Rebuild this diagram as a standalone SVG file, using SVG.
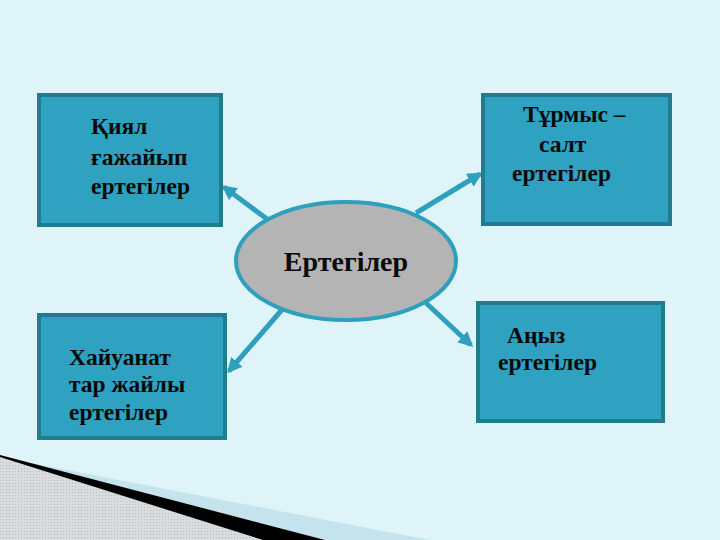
<svg xmlns="http://www.w3.org/2000/svg" width="720" height="540" viewBox="0 0 720 540">
<defs>
<style>
.box{fill:#2ea2c0;stroke:#237b8e;stroke-width:4}
.t{font-family:"Liberation Serif","DejaVu Serif",serif;font-weight:bold;font-size:23.5px;fill:#0a0a0a}
.big{font-size:28px}
.c{stroke:#2e9fbd;stroke-width:5;fill:none;marker-end:url(#ah)}
</style>
<marker id="ah" viewBox="0 0 10 10" refX="8" refY="5" markerWidth="3" markerHeight="3" orient="auto">
<path d="M0,0 L10,5 L0,10 z" fill="#2e9fbd"/>
</marker>
<pattern id="hatch" width="3" height="3" patternUnits="userSpaceOnUse">
<rect width="3" height="3" fill="#d8dcde"/>
<rect width="1" height="1" fill="#b9bec1"/>
</pattern>
</defs>
<rect width="720" height="540" fill="#dff4f9"/>
<g id="decor">
<polygon points="0,457 430,540 320,540" fill="#c4e3ed"/>
<polygon points="0,456 0,540 263,540" fill="url(#hatch)"/>
<polygon points="0,455 325,540 263,540 0,457" fill="#000"/>
</g>
<g id="connectors">
<line class="c" x1="267" y1="219" x2="224" y2="187"/>
<line class="c" x1="416" y1="213" x2="480" y2="174"/>
<line class="c" x1="426" y1="303" x2="471" y2="345"/>
<line class="c" x1="286" y1="305" x2="229" y2="371"/>
</g>
<g id="center">
<ellipse cx="346" cy="261" rx="110" ry="59" fill="#b4b4b4" stroke="#2e9fbd" stroke-width="4"/>
<text class="t big" x="346" y="271" text-anchor="middle">Ертегілер</text>
</g>
<g id="n1">
<rect class="box" x="39" y="95" width="182" height="130"/>
<text class="t" x="91" y="134">Қиял</text>
<text class="t" x="91" y="165">ғажайып</text>
<text class="t" x="91" y="194">ертегілер</text>
</g>
<g id="n2">
<rect class="box" x="483" y="95" width="187" height="129"/>
<text class="t" x="523" y="122">Тұрмыс –</text>
<text class="t" x="539" y="152">салт</text>
<text class="t" x="512" y="181">ертегілер</text>
</g>
<g id="n3">
<rect class="box" x="478" y="303" width="185" height="118"/>
<text class="t" x="507" y="343">Аңыз</text>
<text class="t" x="498" y="370">ертегілер</text>
</g>
<g id="n4">
<rect class="box" x="39" y="315" width="186" height="123"/>
<text class="t" x="69" y="365">Хайуанат</text>
<text class="t" x="69" y="392">тар жайлы</text>
<text class="t" x="69" y="420">ертегілер</text>
</g>
</svg>
